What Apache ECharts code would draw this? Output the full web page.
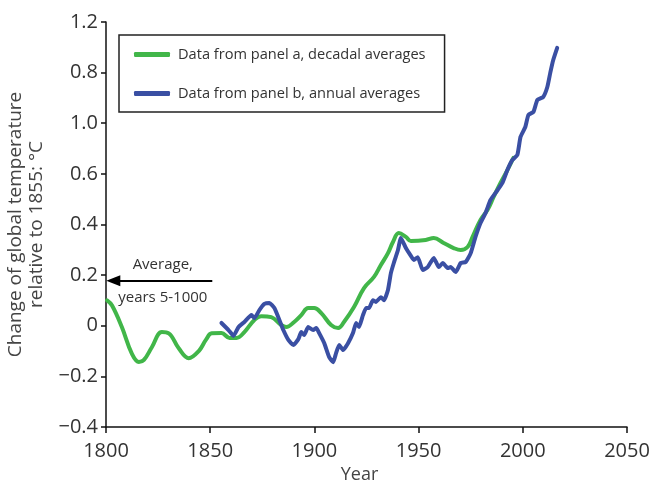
<!DOCTYPE html>
<html>
<head>
<meta charset="utf-8">
<script src="https://cdn.jsdelivr.net/npm/echarts@6/dist/echarts.min.js"></script>
<style>
html,body{margin:0;padding:0;background:#fff;}
#chart{width:653px;height:485px;}
</style>
</head>
<body>
<div id="chart"></div>
<script>
// ---- Data ----
const seriesNames = ["Data from panel a, decadal averages", "Data from panel b, annual averages"];

const decadalYears = [1800.5,1802.9,1807.6,1812.4,1815.8,1818.2,1822,1826.8,1830.1,1834.9,1839.7,1844.5,1848,1850.7,1855.4,1859.3,1862.6,1866.4,1871.2,1874.6,1879.3,1884.1,1886.5,1890.3,1893.7,1897,1899.9,1903.3,1908,1911.4,1914.2,1919,1923.8,1928.6,1931.9,1935.3,1937.7,1940.5,1943.9,1946.3,1953.4,1957.3,1962,1966.8,1970.2,1973.5,1975.9,1979.7,1983.1,1986,1989.3,1992.6,1995.5];
const decadalValues = [0.10,0.08,-0.005,-0.11,-0.143,-0.135,-0.085,-0.025,-0.03,-0.089,-0.128,-0.1,-0.055,-0.03,-0.029,-0.048,-0.048,-0.025,0.023,0.038,0.034,0.003,-0.005,0.015,0.042,0.07,0.07,0.05,0.003,-0.009,0.015,0.074,0.149,0.193,0.24,0.287,0.331,0.366,0.351,0.335,0.339,0.347,0.327,0.307,0.299,0.311,0.351,0.418,0.458,0.509,0.564,0.615,0.663];

const annualYears = [1855.4,1858.8,1861.2,1863.6,1866.4,1869.8,1871.2,1873.6,1876,1878.4,1880.8,1883.2,1885.1,1887.5,1889.9,1892.3,1893.7,1895.1,1897,1899.4,1900.9,1902.3,1904.7,1907.1,1909,1910.4,1911.9,1913.8,1916.2,1918.5,1920,1921.4,1923.3,1924.8,1926.2,1928.1,1929.5,1931.9,1933.4,1935.3,1936.7,1938.1,1940.1,1941.5,1943.9,1946.3,1947.7,1949.6,1952,1954.4,1957.3,1959.7,1961.6,1964,1965.4,1967.8,1970.2,1972.6,1975,1977.3,1979.7,1982.1,1984.5,1987.9,1990.2,1992.6,1995,1997.4,1998.9,2001.2,2002.7,2005.1,2007,2009.8,2011.8,2013.2,2014.6,2016.5];
const annualValues = [0.011,-0.017,-0.04,-0.005,0.015,0.042,0.03,0.062,0.086,0.09,0.07,0.023,-0.017,-0.056,-0.076,-0.053,-0.025,-0.037,-0.005,-0.017,-0.009,-0.029,-0.068,-0.124,-0.144,-0.108,-0.076,-0.096,-0.068,-0.029,0.011,-0.005,0.042,0.07,0.07,0.101,0.094,0.113,0.101,0.141,0.208,0.248,0.299,0.347,0.307,0.276,0.26,0.271,0.22,0.232,0.268,0.232,0.248,0.228,0.232,0.212,0.248,0.252,0.287,0.351,0.406,0.445,0.497,0.536,0.564,0.615,0.655,0.675,0.746,0.785,0.833,0.845,0.892,0.904,0.944,1.0,1.05,1.098];

// Tick labels exactly as printed in the reference (bottom to top)
const yTickValues = [-0.4,-0.2,0,0.2,0.4,0.6,0.8,1.0,1.2];
const yTickLabels = ["\u22120.4","\u22120.2","0","0.2","0.4","0.6","1.0","0.8","1.2"];
const xTickLabels = ["1800","1850","1900","1950","2000","2050"];

// Annotation: average of years 5-1000
const averageValue = 0.178;
const averageArrowYears = [1851, 1803.5];
const averageTexts = ["Average,", "years 5-1000"];

const FONT = "'Open Sans', 'Noto Sans', sans-serif";

const zip = (xs, ys) => xs.map((x, i) => [x, ys[i]]);

const labelLine = (text, pos, dist) => [
  {coord: [averageArrowYears[0], averageValue], symbol: 'none',
   lineStyle: {color: 'rgba(0,0,0,0)', width: 0},
   label: {show: true, position: pos, formatter: text, distance: dist,
     fontFamily: FONT, fontSize: 15, color: '#333'}},
  {coord: [averageArrowYears[1], averageValue], symbol: 'none'}
];

const chart = echarts.init(document.getElementById('chart'), null, {renderer: 'canvas'});
chart.setOption({
  animation: false,
  backgroundColor: '#fff',
  textStyle: {fontFamily: FONT},
  grid: {left: 106, right: 26, top: 22, bottom: 58, containLabel: false, outerBoundsMode: 'none'},
  legend: {
    orient: 'vertical',
    left: 119, top: 35,
    data: seriesNames,
    icon: 'roundRect',
    itemWidth: 36, itemHeight: 5,
    itemGap: 24,
    padding: [12, 19, 11, 15],
    borderColor: '#222', borderWidth: 1.5,
    textStyle: {fontFamily: FONT, fontSize: 14.6, color: '#333', padding: [0,0,0,3]},
    selectedMode: false
  },
  xAxis: {
    type: 'value', min: 1800, max: 2050, interval: 50,
    name: 'Year', nameLocation: 'middle', nameGap: 39,
    nameTextStyle: {fontFamily: FONT, fontSize: 18, color: '#444', padding: [0, 14, 0, 0]},
    axisLine: {show: true, onZero: false, lineStyle: {color: '#111', width: 1.5}},
    axisTick: {show: true, length: 6, lineStyle: {color: '#111', width: 1.5}},
    axisLabel: {fontFamily: FONT, fontSize: 20, color: '#333', margin: 14,
      formatter: v => xTickLabels[Math.round((v - 1800) / 50)] ?? ''},
    splitLine: {show: false}
  },
  yAxis: {
    type: 'value', min: -0.4, max: 1.2, interval: 0.2,
    name: 'Change of global temperature\nrelative to 1855: \u00b0C',
    nameLocation: 'middle', nameGap: 51, nameRotate: 90,
    nameTextStyle: {fontFamily: FONT, fontSize: 19, color: '#444', lineHeight: 21, align: 'center'},
    axisLine: {show: true, onZero: false, lineStyle: {color: '#111', width: 1.5}},
    axisTick: {show: true, length: 5, lineStyle: {color: '#111', width: 1.5}},
    axisLabel: {fontFamily: FONT, fontSize: 20, color: '#333', margin: 8,
      formatter: v => yTickLabels[Math.round((v + 0.4) / 0.2)] ?? ''},
    splitLine: {show: false}
  },
  series: [
    {
      name: seriesNames[0], type: 'line',
      data: zip(decadalYears, decadalValues),
      showSymbol: false, smooth: 0.4,
      color: '#41b649',
      lineStyle: {width: 4, color: '#41b649', cap: 'round', join: 'round'},
      markLine: {
        silent: true, animation: false,
        symbol: ['none', 'triangle'], symbolSize: [11, 14],
        lineStyle: {color: '#000', width: 2, type: 'solid'},
        label: {show: false},
        data: [
          [
            {coord: [averageArrowYears[0], averageValue], symbol: 'none'},
            {coord: [averageArrowYears[1], averageValue], symbol: 'triangle'}
          ],
          labelLine(averageTexts[0], 'insideMiddleTop', 8),
          labelLine(averageTexts[1], 'insideMiddleBottom', 10)
        ]
      }
    },
    {
      name: seriesNames[1], type: 'line',
      data: zip(annualYears, annualValues),
      showSymbol: false, smooth: 0.15,
      color: '#3a4fa3',
      lineStyle: {width: 4, color: '#3a4fa3', cap: 'round', join: 'round'}
    }
  ]
});
</script>
</body>
</html>
